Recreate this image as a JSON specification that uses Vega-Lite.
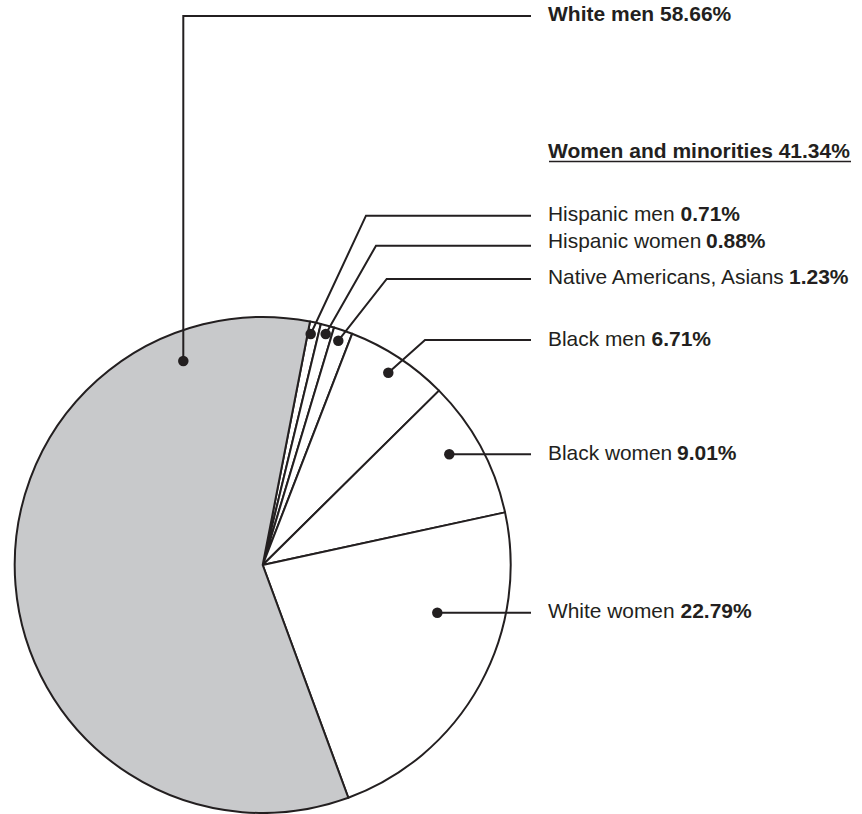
{
  "$schema": "https://vega.github.io/schema/vega-lite/v6.json",
  "width": 862,
  "height": 814,
  "padding": 0,
  "autosize": {"type": "fit", "contains": "padding"},
  "background": "white",
  "config": {"view": {"stroke": null}},
  "datasets": {
    "slices": [
      {"group": "Hispanic men", "percent": 0.71, "order": 1},
      {"group": "Hispanic women", "percent": 0.88, "order": 2},
      {"group": "Native Americans, Asians", "percent": 1.23, "order": 3},
      {"group": "Black men", "percent": 6.71, "order": 4},
      {"group": "Black women", "percent": 9.01, "order": 5},
      {"group": "White women", "percent": 22.79, "order": 6},
      {"group": "White men", "percent": 58.66, "order": 7}
    ],
    "leaders": [
      {"group": "White men", "seq": 1, "x": 183.3, "y": 361},
      {"group": "White men", "seq": 2, "x": 183.3, "y": 16},
      {"group": "White men", "seq": 3, "x": 531, "y": 16},
      {"group": "Hispanic men", "seq": 1, "x": 310.7, "y": 334},
      {"group": "Hispanic men", "seq": 2, "x": 366, "y": 215.7},
      {"group": "Hispanic men", "seq": 3, "x": 531, "y": 215.7},
      {"group": "Hispanic women", "seq": 1, "x": 325.7, "y": 334},
      {"group": "Hispanic women", "seq": 2, "x": 376, "y": 245.7},
      {"group": "Hispanic women", "seq": 3, "x": 531, "y": 245.7},
      {"group": "Native Americans, Asians", "seq": 1, "x": 338.3, "y": 340.7},
      {"group": "Native Americans, Asians", "seq": 2, "x": 386.7, "y": 279},
      {"group": "Native Americans, Asians", "seq": 3, "x": 531, "y": 279},
      {"group": "Black men", "seq": 1, "x": 388.3, "y": 372.7},
      {"group": "Black men", "seq": 2, "x": 425, "y": 340},
      {"group": "Black men", "seq": 3, "x": 531, "y": 340},
      {"group": "Black women", "seq": 1, "x": 449.3, "y": 454.3},
      {"group": "Black women", "seq": 2, "x": 531, "y": 454.3},
      {"group": "White women", "seq": 1, "x": 437.3, "y": 612.7},
      {"group": "White women", "seq": 2, "x": 531, "y": 612.7}
    ],
    "labels": [
      {"name": "Hispanic men", "pct": "0.71%", "y": 215, "px": 680.5},
      {"name": "Hispanic women", "pct": "0.88%", "y": 241.5, "px": 706},
      {"name": "Native Americans, Asians", "pct": "1.23%", "y": 278, "px": 789},
      {"name": "Black men", "pct": "6.71%", "y": 340, "px": 651.5},
      {"name": "Black women", "pct": "9.01%", "y": 453.5, "px": 677},
      {"name": "White women", "pct": "22.79%", "y": 611.5, "px": 680.5}
    ],
    "headers": [
      {"text": "White men 58.66%", "y": 15},
      {"text": "Women and minorities 41.34%", "y": 152}
    ]
  },
  "layer": [
    {
      "data": {"name": "slices"},
      "mark": {"type": "arc", "x": 262.7, "y": 565, "outerRadius": 248, "stroke": "#231f20", "strokeWidth": 2, "strokeJoin": "round"},
      "encoding": {
        "theta": {"field": "percent", "type": "quantitative", "stack": true, "scale": {"range": [0.192, 6.4752]}},
        "order": {"field": "order", "type": "quantitative"},
        "color": {
          "field": "group",
          "type": "nominal",
          "scale": {
            "domain": ["Hispanic men", "Hispanic women", "Native Americans, Asians", "Black men", "Black women", "White women", "White men"],
            "range": ["#ffffff", "#ffffff", "#ffffff", "#ffffff", "#ffffff", "#ffffff", "#c8c9cb"]
          },
          "legend": null
        }
      }
    },
    {
      "data": {"name": "leaders"},
      "mark": {"type": "line", "color": "#231f20", "strokeWidth": 2},
      "encoding": {
        "x": {"field": "x", "type": "quantitative", "scale": {"domain": [0, 862], "nice": false, "zero": false}, "axis": null},
        "y": {"field": "y", "type": "quantitative", "scale": {"domain": [0, 814], "nice": false, "zero": false, "reverse": true}, "axis": null},
        "detail": {"field": "group"},
        "order": {"field": "seq", "type": "quantitative"}
      }
    },
    {
      "data": {"name": "leaders"},
      "transform": [{"filter": "datum.seq == 1"}],
      "mark": {"type": "circle", "color": "#231f20", "size": 110, "opacity": 1},
      "encoding": {
        "x": {"field": "x", "type": "quantitative"},
        "y": {"field": "y", "type": "quantitative"}
      }
    },
    {
      "data": {"name": "labels"},
      "mark": {"type": "text", "align": "left", "baseline": "middle", "font": "Liberation Sans", "fontSize": 20.9, "color": "#231f20"},
      "encoding": {
        "x": {"datum": 548, "type": "quantitative"},
        "y": {"field": "y", "type": "quantitative"},
        "text": {"field": "name"}
      }
    },
    {
      "data": {"name": "labels"},
      "mark": {"type": "text", "align": "left", "baseline": "middle", "font": "Liberation Sans", "fontSize": 21, "fontWeight": "bold", "color": "#231f20"},
      "encoding": {
        "x": {"field": "px", "type": "quantitative"},
        "y": {"field": "y", "type": "quantitative"},
        "text": {"field": "pct"}
      }
    },
    {
      "data": {"name": "headers"},
      "mark": {"type": "text", "align": "left", "baseline": "middle", "font": "Liberation Sans", "fontSize": 21, "fontWeight": "bold", "color": "#231f20"},
      "encoding": {
        "x": {"datum": 548, "type": "quantitative"},
        "y": {"field": "y", "type": "quantitative"},
        "text": {"field": "text"}
      }
    },
    {
      "data": {"values": [{"label": "underline"}]},
      "mark": {"type": "rule", "color": "#231f20", "strokeWidth": 1.6},
      "encoding": {
        "x": {"datum": 549, "type": "quantitative"},
        "x2": {"datum": 851},
        "y": {"datum": 161.5, "type": "quantitative"}
      }
    }
  ]
}
